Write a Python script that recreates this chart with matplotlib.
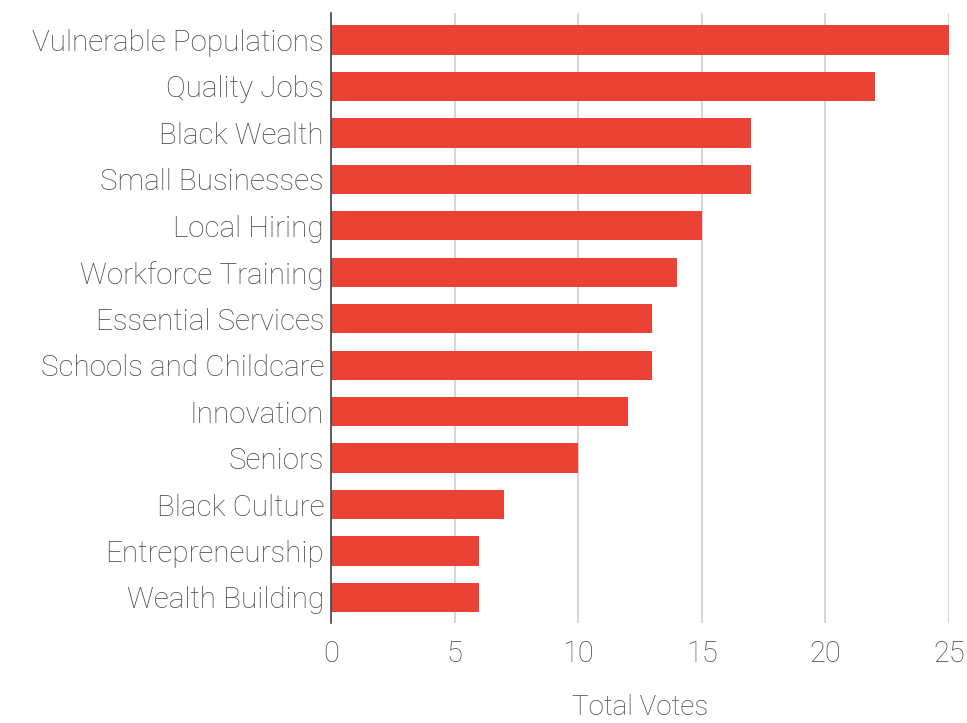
import matplotlib
matplotlib.use("Agg")
import matplotlib.pyplot as plt

categories = ["Vulnerable Populations", "Quality Jobs", "Black Wealth", "Small Businesses",
              "Local Hiring", "Workforce Training", "Essential Services",
              "Schools and Childcare", "Innovation", "Seniors", "Black Culture",
              "Entrepreneurship", "Wealth Building"]
votes = [25, 22, 17, 17, 15, 14, 13, 13, 12, 10, 7, 6, 6]
x_ticks = [0, 5, 10, 15, 20, 25]

plt.rcParams['font.family'] = ['Roboto', 'DejaVu Sans']
txt = '#484848'

fig = plt.figure(figsize=(9.67, 7.23), dpi=100)
ax = fig.add_axes([0.3423, 0.1383, 0.6391, 0.8437])

pos = list(range(len(categories)))
ax.barh(pos, votes, height=0.63, color='#EA4335', zorder=3)

ax.set_xlim(0, 25)
ax.set_ylim(12.55, -0.58)
ax.set_yticks(pos)
ax.set_yticklabels(categories, fontsize=21.3, color=txt, fontweight='light')
ax.set_xticks(x_ticks)
ax.set_xticklabels([str(t) for t in x_ticks], fontsize=21, color=txt, fontweight='light')
ax.tick_params(axis='both', length=0)
ax.tick_params(axis='y', pad=5)
ax.tick_params(axis='x', pad=12)

ax.grid(axis='x', color='#d0d0d0', linewidth=1.2, zorder=0)
for s in ['top', 'right', 'bottom']:
    ax.spines[s].set_visible(False)
ax.spines['left'].set_color('#444444')
ax.spines['left'].set_linewidth(1.2)
ax.spines['left'].set_zorder(4)

ax.set_xlabel('Total Votes', fontsize=20, color=txt, fontweight='light', labelpad=19)

fig.savefig('out.png', dpi=100)
